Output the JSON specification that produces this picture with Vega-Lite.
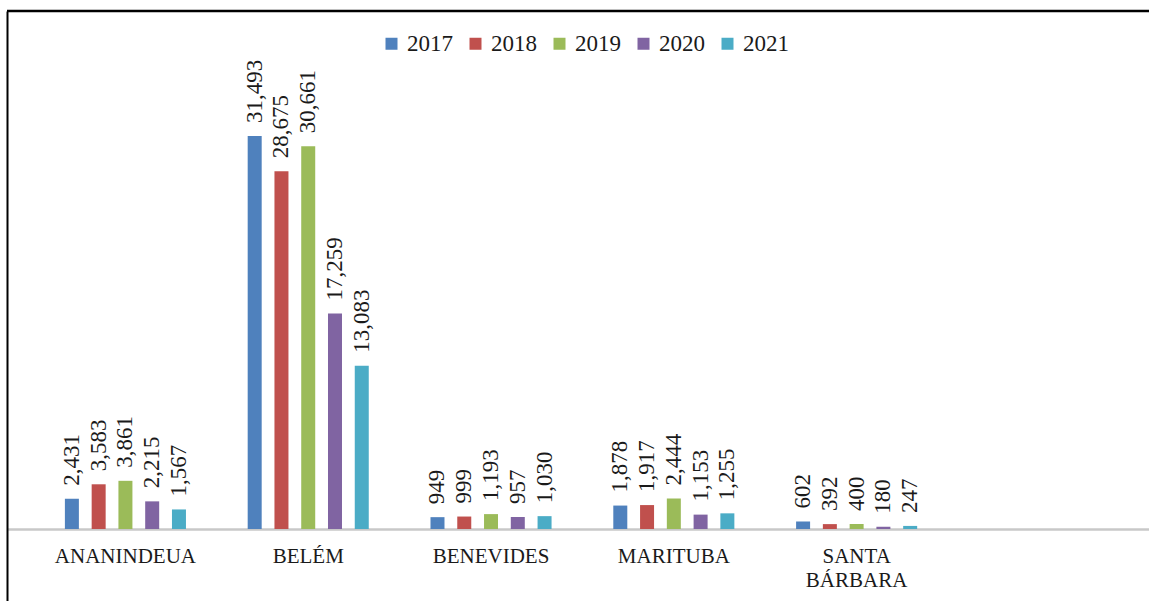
{
  "$schema": "https://vega.github.io/schema/vega-lite/v6.json",
  "width": 1142,
  "height": 590,
  "autosize": {"type": "none"},
  "padding": {"left": 7, "top": 11, "right": 0, "bottom": 0},
  "background": "white",
  "config": {"view": {"stroke": null}, "font": "Liberation Serif"},
  "data": {
    "values": [
      {"municipio": "ANANINDEUA", "ano": "2017", "valor": 2431},
      {"municipio": "ANANINDEUA", "ano": "2018", "valor": 3583},
      {"municipio": "ANANINDEUA", "ano": "2019", "valor": 3861},
      {"municipio": "ANANINDEUA", "ano": "2020", "valor": 2215},
      {"municipio": "ANANINDEUA", "ano": "2021", "valor": 1567},
      {"municipio": "BELÉM", "ano": "2017", "valor": 31493},
      {"municipio": "BELÉM", "ano": "2018", "valor": 28675},
      {"municipio": "BELÉM", "ano": "2019", "valor": 30661},
      {"municipio": "BELÉM", "ano": "2020", "valor": 17259},
      {"municipio": "BELÉM", "ano": "2021", "valor": 13083},
      {"municipio": "BENEVIDES", "ano": "2017", "valor": 949},
      {"municipio": "BENEVIDES", "ano": "2018", "valor": 999},
      {"municipio": "BENEVIDES", "ano": "2019", "valor": 1193},
      {"municipio": "BENEVIDES", "ano": "2020", "valor": 957},
      {"municipio": "BENEVIDES", "ano": "2021", "valor": 1030},
      {"municipio": "MARITUBA", "ano": "2017", "valor": 1878},
      {"municipio": "MARITUBA", "ano": "2018", "valor": 1917},
      {"municipio": "MARITUBA", "ano": "2019", "valor": 2444},
      {"municipio": "MARITUBA", "ano": "2020", "valor": 1153},
      {"municipio": "MARITUBA", "ano": "2021", "valor": 1255},
      {"municipio": "SANTA BÁRBARA", "ano": "2017", "valor": 602},
      {"municipio": "SANTA BÁRBARA", "ano": "2018", "valor": 392},
      {"municipio": "SANTA BÁRBARA", "ano": "2019", "valor": 400},
      {"municipio": "SANTA BÁRBARA", "ano": "2020", "valor": 180},
      {"municipio": "SANTA BÁRBARA", "ano": "2021", "valor": 247}
    ]
  },
  "layer": [
    {
      "encoding": {
        "x": {
          "field": "municipio",
          "type": "nominal",
          "sort": null,
          "scale": {
            "domain": ["ANANINDEUA", "BELÉM", "BENEVIDES", "MARITUBA", "SANTA BÁRBARA"],
            "paddingInner": 0.268,
            "paddingOuter": 0.7576,
            "align": 0.186,
            "round": false
          },
          "axis": {
            "title": null,
            "orient": "bottom",
            "offset": -72,
            "domainColor": "#c8c8c8",
            "domainWidth": 2.3,
            "ticks": false,
            "labelAngle": 0,
            "labelFont": "Liberation Serif",
            "labelFontSize": 21,
            "labelColor": "#1a1a1a",
            "labelPadding": 16,
            "labelLineHeight": 24,
            "labelBaseline": "top",
            "labelOverlap": false,
            "labelExpr": "datum.label == 'SANTA BÁRBARA' ? ['SANTA', 'BÁRBARA'] : datum.label"
          }
        },
        "xOffset": {
          "field": "ano",
          "type": "nominal",
          "scale": {"paddingInner": 0.477, "paddingOuter": 0.238}
        },
        "y": {
          "field": "valor",
          "type": "quantitative",
          "scale": {"domain": [-5769, 41506], "nice": false, "zero": false},
          "axis": {
            "title": null,
            "orient": "left",
            "labels": false,
            "ticks": false,
            "grid": false,
            "domainColor": "black",
            "domainWidth": 2
          }
        }
      },
      "layer": [
        {
          "mark": {"type": "bar"},
          "encoding": {
            "y2": {"datum": 0},
            "color": {
              "field": "ano",
              "type": "nominal",
              "scale": {"range": ["#4F81BD", "#C0504D", "#9BBB59", "#8064A2", "#4BACC6"]},
              "legend": {
                "orient": "none",
                "legendX": 373,
                "legendY": 21,
                "direction": "horizontal",
                "title": null,
                "symbolType": "square",
                "symbolSize": 144,
                "symbolStrokeWidth": 0,
                "labelFont": "Liberation Serif",
                "labelFontSize": 23,
                "labelColor": "#1a1a1a",
                "labelOffset": 4,
                "columnPadding": 11,
                "padding": 0
              }
            }
          }
        },
        {
          "mark": {
            "type": "text",
            "angle": 270,
            "align": "left",
            "baseline": "middle",
            "dx": 13,
            "fontSize": 23,
            "font": "Liberation Serif",
            "color": "#1a1a1a"
          },
          "encoding": {
            "text": {"field": "valor", "type": "quantitative", "format": ","}
          }
        }
      ]
    },
    {
      "data": {"values": [{"top": 41506}]},
      "mark": {"type": "rule", "color": "black", "strokeWidth": 2.5},
      "encoding": {"y": {"field": "top", "type": "quantitative"}}
    }
  ]
}
